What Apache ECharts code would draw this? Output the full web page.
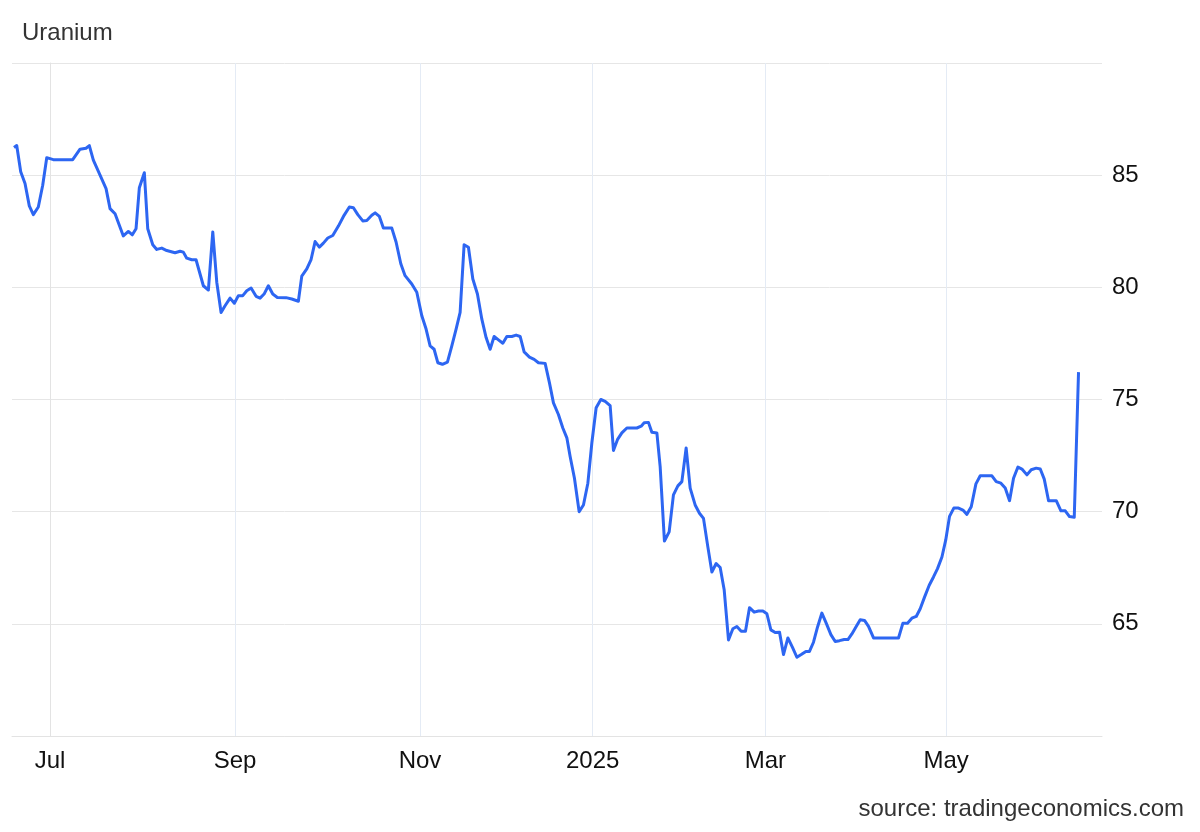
<!DOCTYPE html>
<html>
<head>
<meta charset="utf-8">
<script src="https://cdn.jsdelivr.net/npm/echarts@6/dist/echarts.min.js"></script>
<style>
html,body{margin:0;padding:0;background:#fff;}
#chart{width:1200px;height:832px;}
</style>
</head>
<body>
<div id="chart"></div>
<script>
// x = trading-day index counted from 1 Jul 2024
const dayIdx = [-8.76,-8.10,-7.13,-6.08,-5.04,-4.06,-2.85,-1.78,-0.8,0.8,
5.52,7.30,8.76,9.56,10.54,12.17,13.63,14.6,15.82,17.83,
19.05,20.02,20.92,21.73,22.94,23.77,24.99,25.96,27.18,28.39,
30.41,31.63,32.43,33.26,34.48,35.52,37.30,38.52,39.59,40.56,
41.61,42.58,43.80,44.84,45.82,46.89,47.86,48.91,50.12,51.09,
52.07,53.11,54.18,55.30,57.42,58.81,60.41,61.24,62.46,63.50,
64.48,65.52,66.50,67.57,68.78,70.15,71.53,72.82,73.80,74.87,
76.08,77.06,78.27,79.08,80.12,81.09,83.14,84.18,85.33,86.37,
88.0,89.22,90.44,91.48,92.46,93.43,94.33,95.45,96.67,97.74,
98.78,99.76,100.73,101.78,102.85,103.97,105.04,106.08,107.06,108.03,
109.08,110.15,111.12,112.34,113.38,114.36,115.33,116.62,117.76,118.81,
120.44,121.48,122.46,123.67,124.74,125.72,126.52,127.57,128.71,129.76,
130.83,131.80,132.85,133.99,135.04,136.25,137.06,138.03,139.1,140.32,
142.75,143.80,144.53,145.57,146.4,147.62,148.42,149.46,150.61,151.65,
152.73,153.70,154.74,155.72,156.93,157.98,158.96,160.02,161.0,162.04,
163.02,163.99,165.04,166.11,167.08,168.13,169.17,170.15,171.29,172.34,
173.41,174.38,175.35,176.40,177.45,178.42,179.49,180.61,181.68,182.73,
183.87,184.74,185.72,186.69,187.76,188.81,189.95,191.0,192.04,193.19,
194.09,195.06,196.11,197.08,198.13,199.10,200.32,206.40,207.47,208.59,
209.65,210.71,211.68,212.73,213.87,214.91,215.89,216.96,217.88,218.81,
219.85,221.0,222.07,223.04,224.09,225.23,226.28,229.12,230.17,231.31,
232.36,233.41,234.38,235.45,236.42,237.64,238.69,239.9,240.88,241.85,
242.9,244.77,245.91,246.96,248.0,249.15,250.19];

const price = [86.23,86.32,85.15,84.63,83.63,83.24,83.58,84.55,85.78,85.69,
85.69,86.16,86.20,86.32,85.67,85.0,84.40,83.51,83.28,82.29,
82.49,82.34,82.61,84.44,85.11,82.61,81.90,81.69,81.75,81.64,
81.54,81.61,81.57,81.30,81.23,81.23,80.07,79.88,82.47,80.23,
78.88,79.18,79.52,79.29,79.63,79.63,79.85,79.97,79.60,79.52,
79.70,80.07,79.70,79.55,79.54,79.48,79.38,80.50,80.82,81.24,
82.04,81.79,81.97,82.20,82.31,82.73,83.21,83.58,83.55,83.24,
82.96,82.98,83.21,83.32,83.16,82.64,82.64,82.02,81.05,80.52,
80.15,79.78,78.73,78.14,77.39,77.24,76.64,76.57,76.67,77.39,
78.14,78.88,81.90,81.79,80.37,79.70,78.58,77.76,77.24,77.81,
77.66,77.51,77.81,77.81,77.87,77.81,77.12,76.89,76.79,76.64,
76.61,75.75,74.85,74.33,73.73,73.29,72.46,71.49,70.0,70.30,
71.27,73.06,74.63,75.0,74.92,74.73,72.73,73.21,73.51,73.73,
73.73,73.81,73.96,73.98,73.54,73.51,72.01,68.69,69.10,70.75,
71.15,71.34,72.84,71.05,70.30,69.93,69.70,68.43,67.31,67.69,
67.51,66.52,64.28,64.78,64.88,64.67,64.67,65.72,65.52,65.57,
65.57,65.45,64.73,64.61,64.63,63.63,64.37,63.95,63.51,63.63,
63.77,63.77,64.18,64.85,65.48,65.03,64.52,64.21,64.25,64.30,
64.30,64.55,64.88,65.18,65.15,64.89,64.37,64.37,65.03,65.03,
65.25,65.33,65.67,66.19,66.72,67.09,67.46,67.98,68.73,69.79,
70.16,70.16,70.07,69.88,70.22,71.24,71.60,71.60,71.34,71.27,
71.05,70.49,71.49,71.99,71.90,71.64,71.87,71.94,71.90,71.45,
70.49,70.49,70.04,70.04,69.78,69.75,76.22];

const tickPos = [0, 45, 90, 132, 174, 218];
const tickNames = ['Jul', 'Sep', 'Nov', '2025', 'Mar', 'May'];
const yTicks = [65, 70, 75, 80, 85];

const FONT = "'Liberation Sans', Arial, Helvetica, sans-serif";
const seriesData = dayIdx.map((d, i) => [d, price[i]]);

const chart = echarts.init(document.getElementById('chart'), null, {renderer: 'canvas'});
chart.setOption({
  animation: false,
  backgroundColor: '#ffffff',
  grid: {left: 12, right: 98, top: 63, bottom: 96, containLabel: false},
  graphic: [
    {type: 'text', left: 22, top: 21, style: {text: 'Uranium', font: "24px " + FONT, fill: '#333333'}},
    {type: 'text', right: 16, top: 797, style: {text: 'source: tradingeconomics.com', font: "24px " + FONT, fill: '#333333'}}
  ],
  xAxis: {
    type: 'value',
    min: -9.25,
    max: 255.9,
    axisLine: {show: true, lineStyle: {color: '#e3e3e3', width: 1}},
    axisTick: {show: false, customValues: tickPos},
    axisLabel: {
      customValues: tickPos,
      margin: 13,
      color: '#111111',
      fontSize: 24,
      fontFamily: FONT,
      formatter: function (v) { const k = tickPos.indexOf(v); return k >= 0 ? tickNames[k] : ''; }
    },
    splitLine: {show: true, lineStyle: {color: '#e4ebf5', width: 1}}
  },
  yAxis: {
    type: 'value',
    position: 'right',
    min: 60,
    max: 90,
    interval: 5,
    axisLine: {show: true, lineStyle: {color: '#e3e3e3', width: 1}},
    axisTick: {show: false},
    axisLabel: {
      margin: 10,
      color: '#111111',
      fontSize: 24,
      fontFamily: FONT,
      formatter: function (v) { return yTicks.indexOf(v) >= 0 ? String(v) : ''; }
    },
    splitLine: {show: true, lineStyle: {color: '#e6e6e6', width: 1}}
  },
  series: [{
    type: 'line',
    data: seriesData,
    showSymbol: false,
    symbol: 'none',
    smooth: false,
    lineStyle: {color: '#2d66f2', width: 3, join: 'round'},
    z: 5
  }]
});
</script>
</body>
</html>
